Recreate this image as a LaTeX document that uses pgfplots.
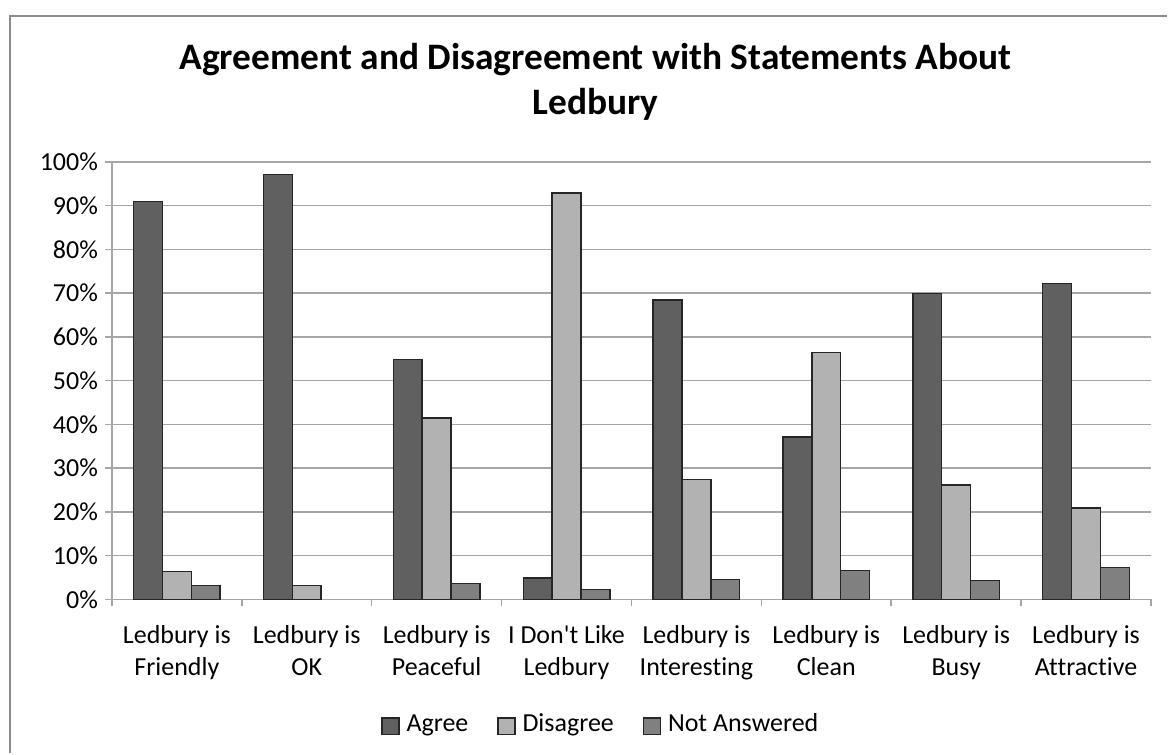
\documentclass[border=0pt]{standalone}
\usepackage{fontspec}
\setmainfont{Carlito}[Ligatures=NoCommon]
\usepackage{pgfplots}
\pgfplotsset{compat=1.18}

\definecolor{agree}{HTML}{606060}
\definecolor{disagree}{HTML}{B2B2B2}
\definecolor{noans}{HTML}{808080}
\definecolor{gridc}{HTML}{A6A6A6}
\definecolor{edgec}{HTML}{262626}
\definecolor{framec}{HTML}{8C8C8C}

\begin{document}
\begin{tikzpicture}
% canvas: 1168 x 754 px at 0.5pt per px
\path (0pt,0pt) rectangle (584pt,-377pt);
\draw[framec, line width=1pt] (5pt,-377pt) -- (5pt,-8pt) -- (584pt,-8pt);
\node[font=\fontsize{18.7}{22.5}\selectfont\bfseries, align=center, anchor=base]
  at (298pt,-57.5pt) {Agreement and Disagreement with Statements About\\Ledbury};

\begin{axis}[
    at={(56pt,-300pt)}, anchor=south west,
    scale only axis,
    width=520pt, height=219pt,
    ybar=0pt,
    bar width=14.45pt,
    xmin=-0.5, xmax=7.5,
    ymin=0, ymax=100,
    xtick={0,...,7},
    xticklabels={{\strut Ledbury is\\Friendly},{\strut Ledbury is\\OK},{\strut Ledbury is\\Peaceful},{\strut I Don\textquotesingle t Like\\Ledbury},{\strut Ledbury is\\Interesting},{\strut Ledbury is\\Clean},{\strut Ledbury is\\Busy},{\strut Ledbury is\\Attractive}},
    xticklabel style={align=center, font=\fontsize{13}{16}\selectfont, yshift=-4pt},
    minor xtick={-0.5,0.5,...,7.5},
    major x tick style={draw=none},
    ytick={0,10,...,100},
    yticklabels={0\%,10\%,20\%,30\%,40\%,50\%,60\%,70\%,80\%,90\%,100\%},
    yticklabel style={font=\fontsize{13}{16}\selectfont},
    /pgf/number format/assume math mode=true,
    tick align=outside,
    major tick length=3.5pt,
    minor tick length=3.5pt,
    tick style={gridc, line width=0.75pt},
    axis lines*=left,
    axis line style={gridc, line width=0.75pt},
    ymajorgrids,
    grid style={gridc, line width=0.75pt},
    legend columns=3,
    legend style={draw=none, at={(0.4715,-0.29)}, anchor=center,
        font=\fontsize{13}{16}\selectfont,
        nodes={text height=1.6ex, text depth=0.5ex},
        /tikz/every odd column/.append style={column sep=1.5pt},
        /tikz/every even column/.append style={column sep=12.5pt}},
    legend image code/.code={\draw[#1, line width=0.6pt] (0pt,-4.2pt) rectangle (8.5pt,4.2pt);},
]
% Agree
\addplot[fill=agree, draw=edgec, line width=0.7pt] coordinates {
    (0,90.9) (1,97.1) (2,54.9) (3,4.9) (4,68.4) (5,37.1) (6,69.9) (7,72.2)
};
% Disagree
\addplot[fill=disagree, draw=edgec, line width=0.7pt] coordinates {
    (0,6.4) (1,3.2) (2,41.5) (3,92.9) (4,27.4) (5,56.4) (6,26.2) (7,20.9)
};
% Not Answered
\addplot[fill=noans, draw=edgec, line width=0.7pt] coordinates {
    (0,3.2) (2,3.7) (3,2.3) (4,4.6) (5,6.6) (6,4.3) (7,7.3)
};
\legend{Agree, Disagree, Not Answered}
\end{axis}
\end{tikzpicture}
\end{document}
